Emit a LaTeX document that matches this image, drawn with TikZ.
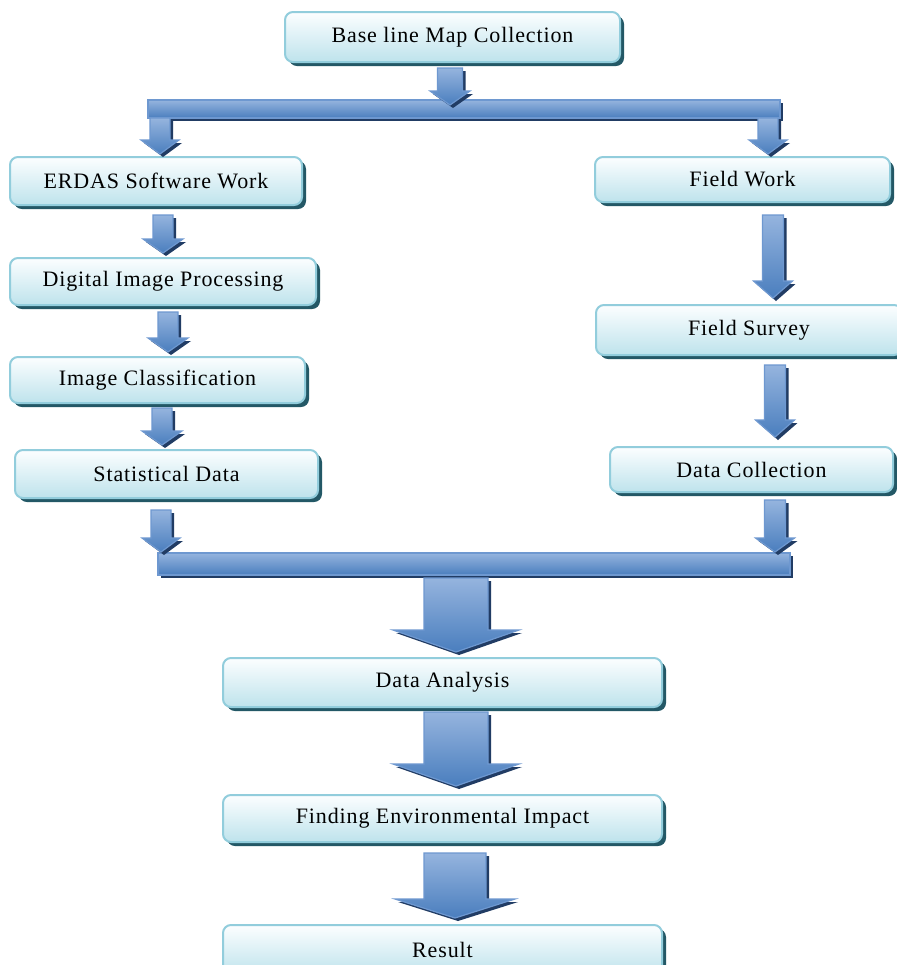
\documentclass[tikz,border=0pt]{standalone}
\usepackage{fontspec}
\setmainfont{Liberation Serif}[LetterSpace=4]
\usepackage{tikz}
\usetikzlibrary{calc,shadows}
\definecolor{boxTop}{RGB}{252,254,255}
\definecolor{boxBottom}{RGB}{190,227,236}
\definecolor{boxEdge}{RGB}{146,205,220}
\definecolor{boxShade}{RGB}{35,88,102}
\definecolor{arrTop}{RGB}{149,180,222}
\definecolor{arrBottom}{RGB}{74,126,190}
\definecolor{arrEdge}{RGB}{110,152,208}
\definecolor{arrShade}{RGB}{33,60,100}
\tikzset{
  stepbox/.style={rectangle, rounded corners=4pt, draw=boxEdge, line width=1pt,
    top color=boxTop, bottom color=boxBottom, text=black,
    drop shadow={shadow xshift=2pt, shadow yshift=-2pt, fill=boxShade, opacity=1},
    font=\fontsize{11}{13}\selectfont, inner sep=0pt},
  bluebar/.style={draw=arrEdge, line width=0.6pt, top color=arrTop, bottom color=arrBottom,
    drop shadow={shadow xshift=1.5pt, shadow yshift=-1.5pt, fill=arrShade, opacity=1}},
}
% block arrow: start, tip, shaft half width, head half width, head length (px)
\newcommand\fatarrow[5]{%
  \draw[bluebar] let \p1=(#1), \p2=(#2) in
    (\x1-#3*0.5pt,\y1) -- (\x1+#3*0.5pt,\y1) -- (\x1+#3*0.5pt,\y2+#5*0.5pt)
    -- (\x1+#4*0.5pt,\y2+#5*0.5pt) -- (\x1,\y2) -- (\x1-#4*0.5pt,\y2+#5*0.5pt)
    -- (\x1-#3*0.5pt,\y2+#5*0.5pt) -- cycle;}
\begin{document}
\begin{tikzpicture}[x=0.5pt,y=-0.5pt]
\useasboundingbox[fill=white] (0,0) rectangle (897,965);
% boxes
\node[stepbox, minimum width=335*0.5pt, minimum height=50*0.5pt] (base) at (452.5,37) {Base line Map Collection};
\node[stepbox, minimum width=292*0.5pt, minimum height=48*0.5pt] (erdas) at (156,181) {ERDAS Software Work};
\node[stepbox, minimum width=306*0.5pt, minimum height=47*0.5pt] (dip) at (163,281.5) {Digital Image Processing};
\node[stepbox, minimum width=295*0.5pt, minimum height=46*0.5pt] (classif) at (157.5,380) {Image Classification};
\node[stepbox, minimum width=303*0.5pt, minimum height=48*0.5pt] (stats) at (166.5,474) {Statistical Data};
\node[stepbox, minimum width=295*0.5pt, minimum height=45*0.5pt] (fwork) at (742.5,179.5) {Field Work};
\node[stepbox, minimum width=306*0.5pt, minimum height=50*0.5pt] (survey) at (749,330) {Field Survey};
\node[stepbox, minimum width=283*0.5pt, minimum height=45*0.5pt] (dcoll) at (751.5,469.5) {Data Collection};
\node[stepbox, minimum width=439*0.5pt, minimum height=49*0.5pt] (analysis) at (442.5,682.5) {Data Analysis};
\node[stepbox, minimum width=439*0.5pt, minimum height=47*0.5pt] (impact) at (442.5,818.5) {Finding Environmental Impact};
\node[stepbox, minimum width=439*0.5pt, minimum height=50*0.5pt] (result) at (442.5,950) {Result};
% bars
\draw[bluebar] (148,100) rectangle (780,118);
\draw[bluebar] (158,553) rectangle (790,575);
% arrow ends
\coordinate (a0s) at (450,68);  \coordinate (a0t) at (450,105);
\coordinate (a1s) at (160,118); \coordinate (a1t) at (160,154);
\coordinate (a2s) at (768,118); \coordinate (a2t) at (768,154);
\coordinate (a3s) at (163,215); \coordinate (a3t) at (163,253);
\coordinate (a4s) at (168,312); \coordinate (a4t) at (168,352);
\coordinate (a5s) at (162,408); \coordinate (a5t) at (162,445);
\coordinate (a6s) at (161,510); \coordinate (a6t) at (161,552);
\coordinate (a7s) at (773,215); \coordinate (a7t) at (773,298);
\coordinate (a8s) at (775,365); \coordinate (a8t) at (775,437);
\coordinate (a9s) at (775,500); \coordinate (a9t) at (775,552);
\coordinate (b1s) at (456,578); \coordinate (b1t) at (456,652);
\coordinate (b2s) at (456,712); \coordinate (b2t) at (456,786);
\coordinate (b3s) at (455,853); \coordinate (b3t) at (455,918);
% arrows
\fatarrow{a0s}{a0t}{12.5}{20}{14}
\fatarrow{a1s}{a1t}{10}{19}{14}
\fatarrow{a2s}{a2t}{10}{19}{14}
\fatarrow{a3s}{a3t}{10}{20}{14}
\fatarrow{a4s}{a4t}{10}{20}{14}
\fatarrow{a5s}{a5t}{10}{20}{14}
\fatarrow{a6s}{a6t}{10}{19}{14}
\fatarrow{a7s}{a7t}{10.5}{19.5}{17}
\fatarrow{a8s}{a8t}{10.5}{19.5}{17}
\fatarrow{a9s}{a9t}{10.5}{19.5}{14}
\fatarrow{b1s}{b1t}{32}{63}{22}
\fatarrow{b2s}{b2t}{32}{63}{22}
\fatarrow{b3s}{b3t}{31}{60}{19}
\end{tikzpicture}
\end{document}
